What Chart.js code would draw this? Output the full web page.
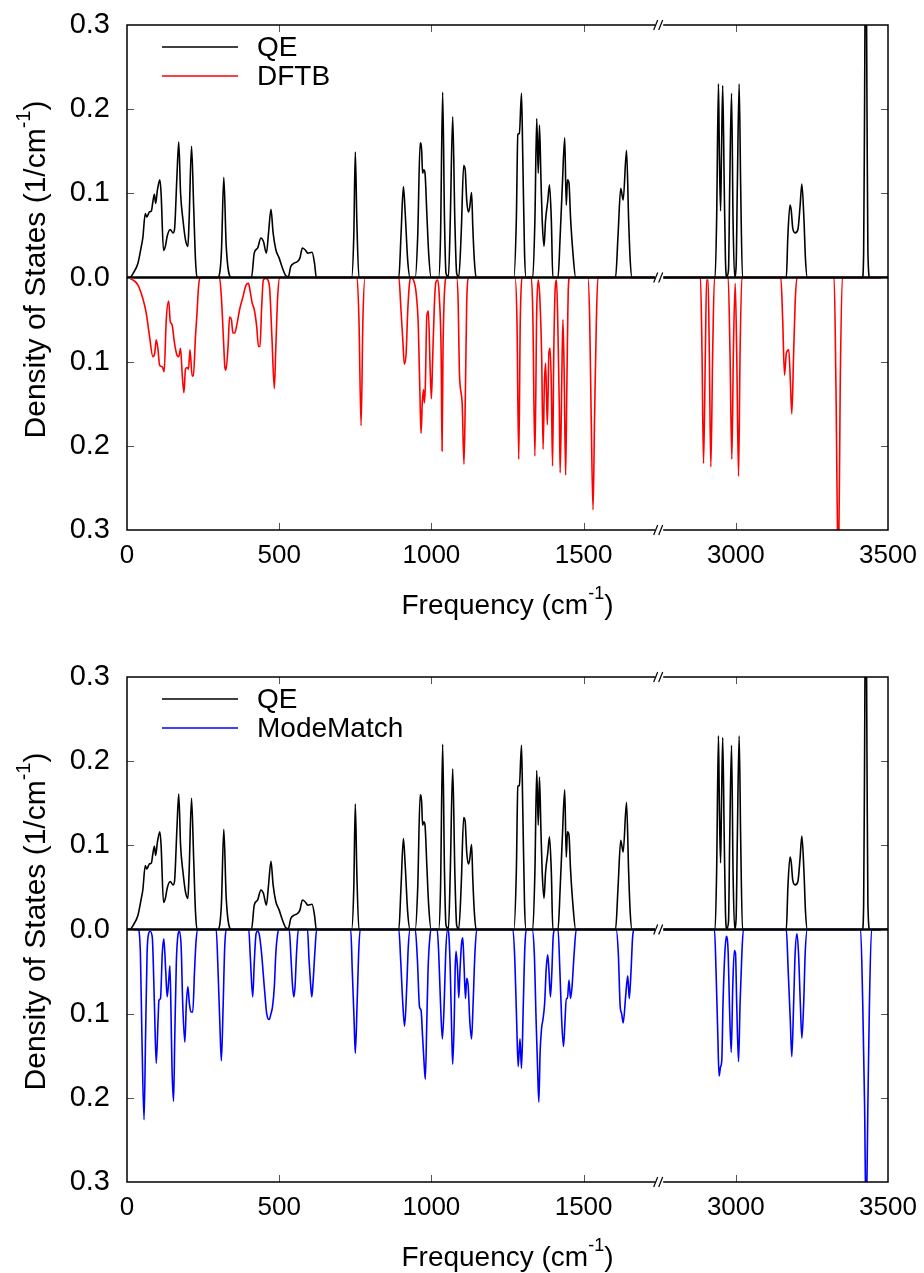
<!DOCTYPE html>
<html>
<head>
<meta charset="utf-8">
<script src="https://cdn.jsdelivr.net/npm/chart.js@4.4.1/dist/chart.umd.min.js"></script>
<style>
html, body { margin: 0; padding: 0; background: #fff; }
#wrap { position: relative; width: 924px; height: 1273px; }
canvas { position: absolute; left: 0; }
#top { top: 0; }
#bottom { top: 640px; }
</style>
</head>
<body>
<div id="wrap">
  <canvas id="top" width="924" height="640" style="width:924px;height:640px"></canvas>
  <canvas id="bottom" width="924" height="633" style="width:924px;height:633px"></canvas>
</div>
<script>
// x axis is broken between 1750 and 2750 cm-1
const BREAK_LO = 1750;
const BREAK_HI = 2750;
const xTickLabels = [0, 500, 1000, 1500, 3000, 3500];

// QE density of states (1/cm-1)
const qeFreq = [0, 9, 20, 36, 47, 52, 60, 65, 74, 80, 85, 90, 94, 100, 108, 112, 120, 126, 132, 142, 151, 156, 164, 170, 176, 184, 192, 200, 204, 212, 219, 225, 230,
  298, 310, 318, 326, 343,
  409, 418, 429, 440, 448, 458, 465, 473, 480, 489, 500, 511, 522, 530, 538, 549, 560, 568, 576, 585, 594, 608, 616, 622,
  738, 745, 750, 755, 762,
  893, 900, 908, 914, 922, 930, 947, 955, 963, 968, 971, 975, 979, 985, 991, 999,
  1024, 1030, 1037, 1043, 1048, 1056, 1062, 1070, 1077, 1083, 1090, 1098, 1106, 1111, 1116, 1122, 1126, 1132, 1136, 1141, 1147,
  1271, 1279, 1284, 1289, 1296, 1300, 1306, 1311, 1333, 1340, 1346, 1351, 1355, 1360, 1364, 1370, 1375, 1382, 1388, 1394, 1399,
  1416, 1423, 1430, 1438, 1443, 1447, 1452, 1457, 1465, 1474,
  1605, 1613, 1622, 1630, 1641, 1648, 1653, 1659,
  2932, 2937, 2943, 2946, 2950, 2953, 2957, 2962, 2966, 2970, 2976, 2980, 2986, 2991, 2996, 3001, 3005, 3011, 3016, 3022,
  3166, 3171, 3178, 3182, 3187, 3195, 3204, 3211, 3217, 3224, 3229, 3235,
  3416, 3420, 3423, 3427, 3431, 3434, 3440, 3500];
const qeDos = [0, 0, 0.005, 0.017, 0.037, 0.047, 0.076, 0.072, 0.078, 0.079, 0.09, 0.099, 0.088, 0.104, 0.116, 0.1, 0.032, 0.037, 0.049, 0.057, 0.053, 0.057, 0.12, 0.161, 0.1, 0.068, 0.045, 0.037, 0.068, 0.156, 0.084, 0.021, 0,
  0, 0.029, 0.119, 0.037, 0,
  0, 0.029, 0.035, 0.047, 0.043, 0.029, 0.053, 0.081, 0.053, 0.033, 0.023, 0.011, 0.002, 0.001, 0.013, 0.017, 0.019, 0.023, 0.035, 0.033, 0.029, 0.03, 0.017, 0,
  0, 0.049, 0.149, 0.068, 0,
  0, 0.049, 0.108, 0.076, 0.021, 0, 0, 0.049, 0.16, 0.151, 0.124, 0.128, 0.124, 0.076, 0.029, 0,
  0, 0.049, 0.22, 0.068, 0.005, 0.001, 0.068, 0.191, 0.068, 0.005, 0.001, 0.053, 0.133, 0.128, 0.092, 0.078, 0.084, 0.101, 0.06, 0.021, 0,
  0, 0.068, 0.17, 0.171, 0.219, 0.147, 0.029, 0, 0, 0.068, 0.189, 0.124, 0.181, 0.116, 0.068, 0.037, 0.068, 0.09, 0.11, 0.068, 0,
  0, 0.049, 0.108, 0.166, 0.086, 0.116, 0.112, 0.072, 0.029, 0,
  0, 0.049, 0.106, 0.092, 0.151, 0.068, 0.021, 0,
  0, 0.068, 0.23, 0.147, 0.079, 0.147, 0.228, 0.108, 0.021, 0.001, 0.009, 0.108, 0.219, 0.068, 0.001, 0.013, 0.108, 0.23, 0.108, 0,
  0, 0.049, 0.086, 0.08, 0.059, 0.053, 0.057, 0.084, 0.111, 0.068, 0.021, 0,
  0, 0.03, 0.2, 0.45, 0.2, 0.03, 0, 0];

// DFTB density of states (plotted downwards)
const dftbFreq = [0, 20, 36, 52, 63, 74, 85, 91, 96, 102, 107, 116, 122, 129, 137, 142, 148, 156, 164, 170, 176, 181, 187, 192, 198, 202, 207, 214, 218, 225, 230, 235, 240,
  304, 310, 317, 322, 325, 332, 337, 343, 348, 354, 361, 370, 381, 391, 399, 404, 411, 418, 426, 432, 437, 442, 448, 456, 463, 469, 476, 484, 489, 495, 502,
  756, 762, 769, 775, 782,
  893, 900, 906, 911, 917, 922, 928, 933, 941, 950, 957, 963, 966, 970, 974, 977, 980, 985, 990, 996, 1000, 1004, 1010, 1015, 1021, 1026, 1032, 1035, 1038, 1044, 1050,
  1083, 1088, 1092, 1101, 1107, 1112, 1116, 1123,
  1275, 1281, 1287, 1292, 1300,
  1328, 1333, 1340, 1346, 1351, 1356, 1362, 1367, 1371, 1375, 1378, 1381, 1386, 1390, 1394, 1398, 1402, 1407, 1411, 1415, 1420, 1423, 1428, 1432, 1436, 1441, 1445, 1450, 1454,
  1514, 1520, 1525, 1531, 1536, 1542, 1547,
  2884, 2889, 2894, 2900, 2904, 2909, 2913, 2918, 2924, 2930,
  2975, 2981, 2987, 2992, 2998, 3003, 3009, 3014, 3020,
  3148, 3154, 3160, 3166, 3174, 3179, 3184, 3190, 3195, 3201,
  3323, 3329, 3337, 3343, 3350, 3500];
const dftbDos = [0, 0.003, 0.009, 0.025, 0.042, 0.07, 0.094, 0.09, 0.074, 0.086, 0.104, 0.106, 0.112, 0.05, 0.028, 0.052, 0.056, 0.078, 0.092, 0.094, 0.084, 0.113, 0.137, 0.109, 0.107, 0.109, 0.086, 0.117, 0.117, 0.07, 0.042, 0.011, 0,
  0, 0.023, 0.074, 0.108, 0.11, 0.082, 0.047, 0.05, 0.066, 0.066, 0.056, 0.038, 0.023, 0.009, 0.007, 0.015, 0.03, 0.038, 0.058, 0.082, 0.082, 0.038, 0.003, 0.001, 0.003, 0.015, 0.07, 0.132, 0.082, 0.023, 0,
  0, 0.05, 0.176, 0.05, 0,
  0, 0.038, 0.074, 0.103, 0.09, 0.042, 0.007, 0, 0.003, 0.019, 0.058, 0.149, 0.185, 0.149, 0.133, 0.149, 0.129, 0.046, 0.04, 0.11, 0.144, 0.098, 0.03, 0.005, 0.003, 0.023, 0.09, 0.206, 0.09, 0.011, 0,
  0, 0.03, 0.113, 0.149, 0.222, 0.129, 0.03, 0,
  0, 0.05, 0.216, 0.05, 0,
  0, 0.04, 0.212, 0.04, 0.003, 0.023, 0.09, 0.204, 0.129, 0.102, 0.137, 0.175, 0.09, 0.084, 0.129, 0.224, 0.09, 0.011, 0.003, 0.05, 0.149, 0.232, 0.129, 0.05, 0.11, 0.235, 0.129, 0.011, 0,
  0, 0.05, 0.167, 0.276, 0.167, 0.05, 0,
  0, 0.09, 0.221, 0.09, 0.003, 0.003, 0.09, 0.225, 0.09, 0,
  0, 0.09, 0.216, 0.09, 0.007, 0.09, 0.236, 0.09, 0,
  0, 0.05, 0.116, 0.09, 0.086, 0.121, 0.162, 0.09, 0.03, 0,
  0, 0.129, 0.36, 0.129, 0, 0];

// ModeMatch density of states (plotted downwards)
const mmFreq = [0, 36, 44, 49, 56, 61, 66, 71, 76, 83, 90, 96, 102, 105, 110, 116, 121, 127, 132, 138, 141, 145, 148, 153, 157, 162, 168, 172, 178, 183, 190, 195, 200, 205, 210, 216, 222, 227, 233,
  293, 299, 305, 310, 316, 321, 328,
  400, 405, 413, 418, 424, 429, 434, 442, 451, 459, 467, 473, 478, 484, 489, 495, 500,
  533, 539, 544, 548, 552, 557, 563, 593, 598, 603, 607, 611, 617, 623,
  735, 740, 746, 750, 756, 761, 766,
  893, 899, 906, 912, 919, 924, 930, 947, 954, 961, 966, 971, 976, 980, 985, 989, 995, 1000,
  1019, 1024, 1030, 1036, 1042, 1047, 1053, 1057, 1062, 1067, 1070, 1075, 1078, 1081, 1086, 1090, 1094, 1099, 1103, 1107, 1112, 1116, 1121, 1126, 1132, 1137, 1143, 1149,
  1268, 1274, 1280, 1285, 1291, 1296, 1302, 1307, 1314,
  1331, 1338, 1344, 1349, 1353, 1357, 1362, 1366, 1372, 1377, 1382, 1386, 1391, 1396, 1400, 1406,
  1416, 1422, 1428, 1434, 1439, 1443, 1447, 1452, 1457, 1462, 1469, 1476,
  1607, 1614, 1620, 1625, 1630, 1638, 1645, 1650, 1656, 1661, 1667,
  2930, 2935, 2941, 2945, 2950, 2954, 2958, 2964, 2969, 2975, 2979, 2985, 2990, 2995, 2999, 3003, 3009, 3014, 3020, 3025,
  3166, 3172, 3179, 3184, 3190, 3195, 3201, 3206, 3212, 3217, 3223, 3228, 3235,
  3410, 3417, 3423, 3428, 3434, 3439, 3446, 3500];
const mmDos = [0, 0, 0.028, 0.127, 0.226, 0.127, 0.028, 0.005, 0.002, 0.009, 0.088, 0.159, 0.108, 0.084, 0.082, 0.028, 0.011, 0.048, 0.08, 0.056, 0.043, 0.108, 0.167, 0.204, 0.127, 0.04, 0.005, 0.002, 0.021, 0.088, 0.134, 0.088, 0.068, 0.088, 0.098, 0.098, 0.048, 0.013, 0,
  0, 0.048, 0.112, 0.156, 0.088, 0.021, 0,
  0, 0.032, 0.08, 0.04, 0.005, 0.002, 0.005, 0.028, 0.068, 0.1, 0.107, 0.1, 0.092, 0.068, 0.028, 0.005, 0,
  0, 0.036, 0.068, 0.08, 0.068, 0.028, 0, 0, 0.036, 0.064, 0.08, 0.064, 0.028, 0,
  0, 0.048, 0.108, 0.147, 0.088, 0.028, 0,
  0, 0.036, 0.088, 0.115, 0.068, 0.021, 0, 0, 0.036, 0.092, 0.096, 0.127, 0.159, 0.178, 0.108, 0.048, 0.009, 0,
  0, 0.028, 0.088, 0.13, 0.088, 0.028, 0, 0.005, 0.048, 0.127, 0.16, 0.108, 0.048, 0.026, 0.048, 0.081, 0.048, 0.017, 0.01, 0.04, 0.082, 0.058, 0.068, 0.108, 0.13, 0.088, 0.028, 0,
  0, 0.036, 0.108, 0.163, 0.13, 0.165, 0.088, 0.021, 0,
  0, 0.028, 0.108, 0.167, 0.205, 0.147, 0.117, 0.108, 0.088, 0.048, 0.03, 0.048, 0.08, 0.048, 0.009, 0,
  0, 0.048, 0.108, 0.139, 0.108, 0.082, 0.082, 0.06, 0.082, 0.068, 0.028, 0,
  0, 0.028, 0.09, 0.1, 0.111, 0.08, 0.055, 0.082, 0.048, 0.009, 0,
  0, 0.048, 0.127, 0.174, 0.163, 0.155, 0.088, 0.028, 0.008, 0.028, 0.088, 0.146, 0.068, 0.025, 0.028, 0.088, 0.157, 0.088, 0.028, 0,
  0, 0.048, 0.108, 0.151, 0.088, 0.028, 0.005, 0.028, 0.088, 0.129, 0.088, 0.028, 0,
  0, 0.088, 0.206, 0.35, 0.206, 0.088, 0, 0];

const FONT = "'Liberation Sans', Arial, Helvetica, sans-serif";

// frequency -> position on the broken axis
function toAxis(f) {
  return f >= BREAK_HI ? f - (BREAK_HI - BREAK_LO) : f;
}

function points(freq, dos, sign) {
  return freq.map((f, i) => ({ x: toAxis(f), y: sign * dos[i] }));
}

function strokeLine(ctx, x1, y1, x2, y2) {
  ctx.beginPath();
  ctx.moveTo(x1, y1);
  ctx.lineTo(x2, y2);
  ctx.stroke();
}

// text with a superscript piece, centred on (cx, cy)
function supText(ctx, parts, cx, cy, size) {
  const supSize = Math.round(size * 0.65);
  let w = 0;
  parts.forEach(p => {
    ctx.font = (p.sup ? supSize : size) + 'px ' + FONT;
    p.w = ctx.measureText(p.t).width;
    w += p.w;
  });
  let x = cx - w / 2;
  ctx.textAlign = 'left';
  ctx.textBaseline = 'middle';
  parts.forEach(p => {
    ctx.font = (p.sup ? supSize : size) + 'px ' + FONT;
    ctx.fillText(p.t, x, p.sup ? cy - size * 0.42 : cy);
    x += p.w;
  });
}

const framePlugin = {
  id: 'frame',
  afterDatasetsDraw(chart, args, opts) {
    const { ctx, chartArea: a, scales: { x, y } } = chart;
    ctx.save();
    const y0 = y.getPixelForValue(0);

    ctx.strokeStyle = '#000';
    ctx.lineWidth = 2.5;
    strokeLine(ctx, a.left, y0, a.right, y0);

    // inward ticks on all four sides
    ctx.strokeStyle = '#555';
    ctx.lineWidth = 1;
    x.ticks.forEach(t => {
      if (t.value <= x.min || t.value >= x.max) return;
      const px = Math.round(x.getPixelForValue(t.value)) + 0.5;
      strokeLine(ctx, px, a.bottom, px, a.bottom - 7);
      strokeLine(ctx, px, a.top, px, a.top + 7);
    });
    y.ticks.forEach(t => {
      if (t.value <= y.min + 1e-9 || t.value >= y.max - 1e-9) return;
      const py = Math.round(y.getPixelForValue(t.value)) + 0.5;
      strokeLine(ctx, a.left, py, a.left + 7, py);
      strokeLine(ctx, a.right, py, a.right - 7, py);
    });

    ctx.strokeStyle = '#000';
    ctx.lineWidth = 1.5;
    ctx.strokeRect(a.left, a.top, a.right - a.left, a.bottom - a.top);

    // axis break marks
    const bx = x.getPixelForValue(BREAK_LO);
    [a.top, y0, a.bottom].forEach(yy => {
      ctx.fillStyle = '#fff';
      ctx.fillRect(bx - 4.5, yy - 2, 8, 4);
      ctx.strokeStyle = '#000';
      ctx.lineWidth = 1.2;
      strokeLine(ctx, bx - 6, yy + 5, bx - 2, yy - 5);
      strokeLine(ctx, bx - 1, yy + 5, bx + 3, yy - 5);
    });

    // legend
    ctx.fillStyle = '#000';
    opts.items.forEach((it, i) => {
      const ly = a.top + 22 + i * 29;
      ctx.strokeStyle = it.color;
      ctx.lineWidth = 1.6;
      strokeLine(ctx, 162, ly, 238, ly);
      ctx.font = '28px ' + FONT;
      ctx.textAlign = 'left';
      ctx.textBaseline = 'middle';
      ctx.fillText(it.text, 257, ly + 1);
    });

    // axis titles
    supText(ctx, [{ t: 'Frequency (cm' }, { t: '-1', sup: true }, { t: ')' }],
      (a.left + a.right) / 2, a.bottom + 76, 28);
    ctx.save();
    ctx.translate(37, (a.top + a.bottom) / 2 - 8);
    ctx.rotate(-Math.PI / 2);
    supText(ctx, [{ t: 'Density of States (1/cm' }, { t: '-1', sup: true }, { t: ')' }], 0, 0, 30);
    ctx.restore();

    ctx.restore();
  }
};

function makeChart(id, lower, padTop, xHeight) {
  return new Chart(document.getElementById(id), {
    type: 'line',
    data: {
      datasets: [
        {
          label: 'QE',
          data: points(qeFreq, qeDos, 1),
          borderColor: '#000',
          borderWidth: 1.6,
          pointRadius: 0,
          cubicInterpolationMode: 'monotone',
          order: 0
        },
        {
          label: lower.label,
          data: points(lower.freq, lower.dos, -1),
          borderColor: lower.color,
          borderWidth: 1.6,
          pointRadius: 0,
          cubicInterpolationMode: 'monotone',
          order: 1
        }
      ]
    },
    options: {
      responsive: false,
      animation: false,
      events: [],
      layout: { padding: { top: padTop, right: 36, left: 0, bottom: 0 } },
      plugins: {
        legend: { display: false },
        tooltip: { enabled: false },
        frame: { items: [{ text: 'QE', color: '#000' }, { text: lower.label, color: lower.color }] }
      },
      scales: {
        x: {
          type: 'linear',
          min: 0,
          max: toAxis(3500),
          grid: { display: false, drawTicks: false },
          border: { display: false },
          ticks: {
            stepSize: 500,
            maxRotation: 0,
            padding: 10,
            color: '#000',
            font: { family: FONT, size: 26 },
            callback: (v, i) => xTickLabels[i]
          },
          afterFit: s => {
            s.height = xHeight;
            s.paddingLeft = 0;
            s.paddingRight = 0;
          }
        },
        y: {
          min: -0.3,
          max: 0.3,
          grid: { display: false, drawTicks: false },
          border: { display: false },
          ticks: {
            stepSize: 0.1,
            padding: 17,
            color: '#000',
            font: { family: FONT, size: 29 },
            callback: v => Math.abs(v).toFixed(1)
          },
          afterFit: s => {
            s.width = 127;
            s.paddingTop = 0;
            s.paddingBottom = 0;
          }
        }
      }
    },
    plugins: [framePlugin]
  });
}

makeChart('top', { label: 'DFTB', color: '#ff0000', freq: dftbFreq, dos: dftbDos }, 25, 110);
makeChart('bottom', { label: 'ModeMatch', color: '#0000ff', freq: mmFreq, dos: mmDos }, 37, 91);
</script>
</body>
</html>
